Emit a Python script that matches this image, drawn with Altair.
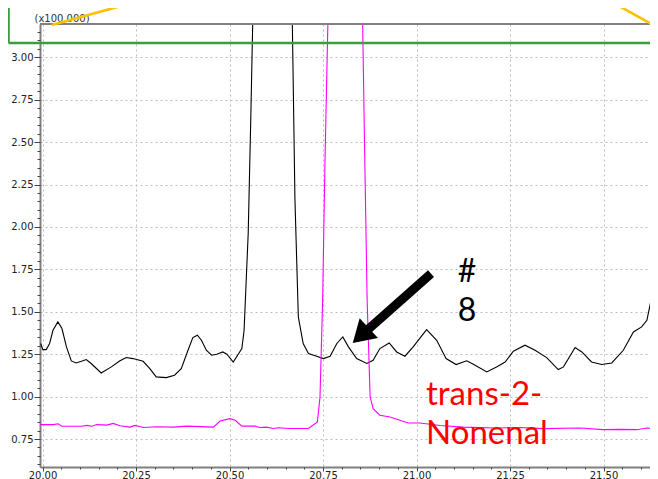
import altair as alt
import pandas as pd

# ---------------- data ----------------
black_t = [19.995, 20.001, 20.010, 20.019, 20.028, 20.041, 20.052, 20.064, 20.077, 20.090,
           20.104, 20.117, 20.130, 20.157, 20.184, 20.206, 20.224, 20.242, 20.269, 20.287,
           20.304, 20.331, 20.353, 20.371, 20.389, 20.402, 20.414, 20.425, 20.438, 20.452,
           20.466, 20.482, 20.493, 20.510, 20.533, 20.539, 20.550, 20.557, 20.562, 20.615,
           20.668, 20.675, 20.684, 20.697, 20.711, 20.733, 20.751, 20.769, 20.787, 20.803,
           20.818, 20.840, 20.867, 20.884, 20.902, 20.927, 20.947, 20.969, 20.991, 21.027,
           21.054, 21.079, 21.106, 21.134, 21.152, 21.188, 21.214, 21.237, 21.259, 21.290,
           21.317, 21.348, 21.379, 21.393, 21.424, 21.442, 21.468, 21.495, 21.522, 21.553,
           21.580, 21.602, 21.616, 21.629, 21.642, 21.646]
black_v = [1.313, 1.277, 1.277, 1.313, 1.391, 1.440, 1.401, 1.293, 1.210, 1.198,
           1.208, 1.218, 1.195, 1.139, 1.175, 1.210, 1.230, 1.224, 1.208, 1.165,
           1.116, 1.112, 1.126, 1.165, 1.273, 1.348, 1.362, 1.332, 1.273, 1.244,
           1.250, 1.263, 1.250, 1.204, 1.283, 1.391, 1.962, 2.650, 3.196, 12.0,
           3.196, 2.158, 1.470, 1.313, 1.254, 1.238, 1.224, 1.238, 1.313, 1.352,
           1.293, 1.224, 1.195, 1.214, 1.283, 1.316, 1.263, 1.238, 1.293, 1.395,
           1.332, 1.224, 1.189, 1.211, 1.191, 1.145, 1.175, 1.204, 1.267, 1.303,
           1.273, 1.230, 1.159, 1.175, 1.289, 1.263, 1.204, 1.189, 1.198, 1.273,
           1.381, 1.411, 1.450, 1.588, 1.657, 1.647]

mag_t = [19.993, 20.029, 20.042, 20.051, 20.105, 20.118, 20.132, 20.145, 20.172, 20.189,
         20.207, 20.234, 20.247, 20.270, 20.305, 20.350, 20.386, 20.457, 20.475, 20.501,
         20.515, 20.533, 20.568, 20.581, 20.599, 20.617, 20.630, 20.662, 20.711, 20.735,
         20.742, 20.749, 20.755, 20.763, 20.809, 20.856, 20.862, 20.868, 20.876, 20.884,
         20.902, 20.929, 20.978, 21.009, 21.063, 21.125, 21.214, 21.277, 21.339, 21.437,
         21.499, 21.544, 21.589, 21.616, 21.646]
mag_v = [0.835, 0.835, 0.840, 0.825, 0.825, 0.830, 0.825, 0.835, 0.832, 0.842,
         0.828, 0.820, 0.830, 0.818, 0.822, 0.820, 0.826, 0.820, 0.856, 0.870,
         0.860, 0.826, 0.826, 0.818, 0.820, 0.812, 0.816, 0.812, 0.812, 0.850,
         0.998, 1.568, 2.355, 3.196, 15.0, 3.196, 2.355, 1.568, 0.998, 0.929,
         0.890, 0.880, 0.844, 0.844, 0.830, 0.820, 0.815, 0.818, 0.811, 0.815,
         0.805, 0.807, 0.805, 0.815, 0.809]

x_major = [20.00, 20.25, 20.50, 20.75, 21.00, 21.25, 21.50]
x_minor = [round(20.0 + 0.05 * i, 2) for i in range(0, 34)]
y_major = [0.75, 1.00, 1.25, 1.50, 1.75, 2.00, 2.25, 2.50, 2.75, 3.00]
y_minor = [round(0.60 + 0.05 * i, 2) for i in range(0, 52)]

# annotation texts
hash_t = [21.135, 21.135]
hash_v = [1.676, 1.446]
hash_txt = ["#", "8"]
name_t = [21.0254, 21.0254]
name_v = [0.9487, 0.7227]
name_txt = ["trans-2-", "Nonenal"]

# arrow (shaft start/end, head centre)
arrow_t = [21.0388, 20.8623]
arrow_v = [1.7245, 1.3793]
head_t = [20.851]
head_v = [1.360]

# zoom-connector decorations (inset frame above the plot)
frame_t = [19.909, 21.80]
frame_v = [3.084, 3.60]
yel1_t = [20.0246, 20.2695]
yel1_v = [3.1906, 3.338]
yel2_t = [21.512, 21.6377]
yel2_v = [3.338, 3.1847]

X_MIN, X_MAX = 19.9933, 21.6243
Y_MIN, Y_MAX = 0.585, 3.196

FONT = "DejaVu Sans"

xs = alt.Scale(domain=[X_MIN, X_MAX], nice=False, zero=False)
ys = alt.Scale(domain=[Y_MIN, Y_MAX], nice=False, zero=False)

df_black = pd.DataFrame({"t": black_t, "v": black_v})
df_mag = pd.DataFrame({"t": mag_t, "v": mag_v})

x_axis_major = alt.Axis(values=x_major, format=".2f", orient="bottom", title=None,
                        tickSize=4, tickColor="#444", labelPadding=-1,
                        labelFont=FONT, labelFontSize=10, labelColor="#222",
                        domainColor="#808080", domainWidth=2,
                        grid=True, gridColor="#bdbdbd", gridDash=[2, 3], gridWidth=1)
y_axis_major = alt.Axis(values=y_major, format=".2f", orient="left",
                        title="(x100,000)", titleAngle=0, titleAlign="left",
                        titleBaseline="alphabetic", titleX=-6, titleY=-3,
                        titleFont=FONT, titleFontSize=10, titleFontWeight="normal",
                        titleColor="#333",
                        tickSize=6, tickColor="#444", labelPadding=1,
                        labelFont=FONT, labelFontSize=10, labelColor="#222",
                        domainColor="#808080", domainWidth=2,
                        grid=True, gridColor="#bdbdbd", gridDash=[2, 3], gridWidth=1)
x_axis_minor = alt.Axis(values=x_minor, orient="bottom", title=None, labels=False,
                        domain=False, grid=False, tickSize=2, tickColor="#444")
y_axis_minor = alt.Axis(values=y_minor, orient="left", title=None, labels=False,
                        domain=False, grid=False, tickSize=3, tickColor="#444")

black = alt.Chart(df_black).mark_line(color="black", strokeWidth=1.1, clip=True).encode(
    x=alt.X("t:Q", scale=xs, axis=x_axis_major),
    y=alt.Y("v:Q", scale=ys, axis=y_axis_major),
)
mag = alt.Chart(df_mag).mark_line(color="#ff00ff", strokeWidth=1.1, clip=True).encode(
    x=alt.X("t:Q", scale=xs, axis=x_axis_minor),
    y=alt.Y("v:Q", scale=ys, axis=y_axis_minor),
)

top_border = alt.Chart(pd.DataFrame({"a": [X_MIN], "b": [X_MAX], "y": [Y_MAX]})).mark_rule(
    color="#808080", strokeWidth=2, clip=False).encode(
    x=alt.X("a:Q", scale=xs, axis=None), x2="b:Q",
    y=alt.Y("y:Q", scale=ys, axis=None))

frame_v_line = alt.Chart(pd.DataFrame({"x": [frame_t[0]], "y": [frame_v[0]], "y2": [frame_v[1]]})).mark_rule(
    color="#3c9d3c", strokeWidth=2.6, clip=False).encode(
    x=alt.X("x:Q", scale=xs, axis=None),
    y=alt.Y("y:Q", scale=ys, axis=None), y2="y2:Q")
frame_h_line = alt.Chart(pd.DataFrame({"x": [frame_t[0]], "x2": [frame_t[1]], "y": [frame_v[0]]})).mark_rule(
    color="#3c9d3c", strokeWidth=2.6, clip=False).encode(
    x=alt.X("x:Q", scale=xs, axis=None), x2="x2:Q",
    y=alt.Y("y:Q", scale=ys, axis=None))

yel = alt.Chart(pd.DataFrame({"x": [yel1_t[0], yel2_t[0]], "x2": [yel1_t[1], yel2_t[1]],
                              "y": [yel1_v[0], yel2_v[0]], "y2": [yel1_v[1], yel2_v[1]]})).mark_rule(
    color="#ffc000", strokeWidth=2.6, clip=False).encode(
    x=alt.X("x:Q", scale=xs, axis=None), x2="x2:Q",
    y=alt.Y("y:Q", scale=ys, axis=None), y2="y2:Q")

shaft = alt.Chart(pd.DataFrame({"x": [arrow_t[0]], "x2": [arrow_t[1]],
                                "y": [arrow_v[0]], "y2": [arrow_v[1]]})).mark_rule(
    color="black", strokeWidth=9, strokeCap="butt", clip=False).encode(
    x=alt.X("x:Q", scale=xs, axis=None), x2="x2:Q",
    y=alt.Y("y:Q", scale=ys, axis=None), y2="y2:Q")
head = alt.Chart(pd.DataFrame({"x": head_t, "y": head_v})).mark_point(
    shape="M0,-1L1.23,1L-1.23,1Z", filled=True, size=480, angle=227.2,
    color="black", opacity=1, strokeWidth=0, clip=False).encode(
    x=alt.X("x:Q", scale=xs, axis=None),
    y=alt.Y("y:Q", scale=ys, axis=None))

hash_text = alt.Chart(pd.DataFrame({"x": hash_t, "y": hash_v, "s": hash_txt})).mark_text(
    font="Lato", fontSize=32, color="black", align="center", baseline="alphabetic").encode(
    x=alt.X("x:Q", scale=xs, axis=None),
    y=alt.Y("y:Q", scale=ys, axis=None), text="s:N")
name_text = alt.Chart(pd.DataFrame({"x": name_t, "y": name_v, "s": name_txt})).mark_text(
    font="Lato", fontSize=33, color="#ff0000", align="left", baseline="alphabetic").encode(
    x=alt.X("x:Q", scale=xs, axis=None),
    y=alt.Y("y:Q", scale=ys, axis=None), text="s:N")

chart = alt.layer(
    black, mag, top_border, frame_v_line, frame_h_line, yel, shaft, head, hash_text, name_text
).resolve_scale(x="shared", y="shared").resolve_axis(x="independent", y="independent").properties(
    width=610, height=443,
    autosize=alt.AutoSizeParams(type="none"),
    padding={"left": 32, "top": 16, "right": 0, "bottom": 12},
).configure_view(stroke=None).configure(background="white")

chart.save("out.html", embed_options={"renderer": "svg", "actions": False})
